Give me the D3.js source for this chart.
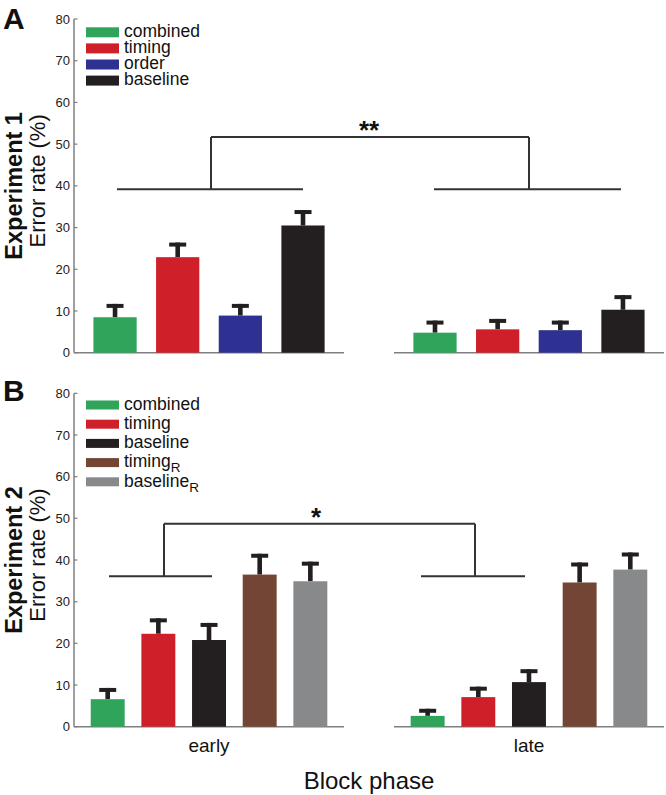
<!DOCTYPE html>
<html>
<head>
<meta charset="utf-8">
<script src="https://cdn.jsdelivr.net/npm/d3@7"></script>
<style>
  html, body { margin: 0; padding: 0; background: #fff; }
  svg { display: block; font-family: "Liberation Sans", Arial, Helvetica, sans-serif; }
</style>
</head>
<body>
<svg id="chart" width="666" height="795"></svg>
<script>
// ---------- data ----------
const groups = ["early", "late"];
const yTicks = [0, 10, 20, 30, 40, 50, 60, 70, 80];

// Experiment 1
const seriesA = ["combined", "timing", "order", "baseline"];
const colorsA = ["#2fa45a", "#cf2029", "#2e3191", "#231f20"];
const meanA_early = [8.5, 22.9, 8.9, 30.5];
const errA_early  = [3.2, 3.5, 2.8, 3.7];
const meanA_late  = [4.8, 5.6, 5.4, 10.3];
const errA_late   = [2.9, 2.5, 2.3, 3.5];

// Experiment 2
const seriesB = ["combined", "timing", "baseline", "timingR", "baselineR"];
const labelsB = [["combined", ""], ["timing", ""], ["baseline", ""], ["timing", "R"], ["baseline", "R"]];
const colorsB = ["#2fa45a", "#cf2029", "#231f20", "#734534", "#88898b"];
const meanB_early = [6.6, 22.3, 20.8, 36.5, 34.9];
const errB_early  = [2.7, 3.7, 4.1, 5.0, 4.7];
const meanB_late  = [2.6, 7.1, 10.7, 34.6, 37.7];
const errB_late   = [1.7, 2.5, 3.1, 4.8, 4.1];

// ---------- drawing ----------
const svg = d3.select("#chart");
const axisColor = "#7f7f7f";
const ink = "#231f20";

const x0 = d3.scaleBand().domain(groups).range([74, 664]).paddingInner(0.156);

function panel(cfg) {
  const g = svg.append("g");
  const y = d3.scaleLinear().domain([0, 80]).range([cfg.y0, cfg.y80]);
  const x1 = d3.scaleBand().domain(cfg.series).range([0, x0.bandwidth()]).padding(cfg.pad);

  // y axis line
  g.append("line").attr("x1", 74).attr("x2", 74).attr("y1", y(0)).attr("y2", y(80))
    .attr("stroke", axisColor).attr("stroke-width", 1.5);
  // ticks (inward) and labels
  g.selectAll(".tk").data(yTicks).join("line")
    .attr("x1", 74).attr("x2", 77.5).attr("y1", d => y(d)).attr("y2", d => y(d))
    .attr("stroke", axisColor).attr("stroke-width", 1.2);
  g.selectAll(".tl").data(yTicks).join("text")
    .attr("x", 70).attr("y", d => y(d) + 4.6)
    .attr("text-anchor", "end").attr("font-size", 13).attr("fill", "#222")
    .text(d => d);

  // x axis segments per group
  groups.forEach(gr => {
    g.append("line").attr("x1", x0(gr)).attr("x2", x0(gr) + x0.bandwidth())
      .attr("y1", y(0)).attr("y2", y(0))
      .attr("stroke", axisColor).attr("stroke-width", 1.5);
  });

  // bars and error bars
  groups.forEach((gr, gi) => {
    const means = cfg.means[gi], errs = cfg.errs[gi];
    const data = cfg.series.map((s, i) => ({ s, m: means[i], e: errs[i], c: cfg.colors[i] }));
    const gg = g.append("g");
    const bw = x1.bandwidth();
    gg.selectAll(".stem").data(data).join("rect")
      .attr("x", d => x0(gr) + x1(d.s) + bw / 2 - 2.3)
      .attr("width", 4.6)
      .attr("y", d => y(d.m + d.e))
      .attr("height", d => y(d.m) - y(d.m + d.e))
      .attr("fill", ink);
    gg.selectAll(".cap").data(data).join("rect")
      .attr("x", d => x0(gr) + x1(d.s) + bw / 2 - 8.5)
      .attr("width", 17)
      .attr("y", d => y(d.m + d.e))
      .attr("height", 4)
      .attr("fill", ink);
    gg.selectAll(".bar").data(data).join("rect")
      .attr("x", d => x0(gr) + x1(d.s))
      .attr("width", bw)
      .attr("y", d => y(d.m))
      .attr("height", d => y(0) - y(d.m))
      .attr("fill", d => d.c);
  });

  // significance bracket
  const b = cfg.bracket;
  const bg = g.append("g").attr("stroke", "#333").attr("stroke-width", 2).attr("fill", "none");
  b.cx.forEach((cx, i) => {
    bg.append("line").attr("x1", cx - b.halfL[i]).attr("x2", cx + b.halfR[i])
      .attr("y1", y(b.low)).attr("y2", y(b.low));
    bg.append("line").attr("x1", cx).attr("x2", cx).attr("y1", y(b.low)).attr("y2", y(b.top));
  });
  bg.append("line").attr("x1", b.cx[0]).attr("x2", b.cx[1]).attr("y1", y(b.top)).attr("y2", y(b.top));
  g.append("text").attr("x", (b.cx[0] + b.cx[1]) / 2 + b.starDx).attr("y", y(b.top) + 2)
    .attr("text-anchor", "middle").attr("font-size", 26).attr("font-weight", "bold")
    .attr("fill", "#111").text(b.stars);

  // legend
  const lg = g.append("g");
  cfg.legend.forEach((lab, i) => {
    const cy = cfg.legY + i * cfg.legStep;
    lg.append("rect").attr("x", 86).attr("y", cy - cfg.swH / 2).attr("width", 33).attr("height", cfg.swH)
      .attr("fill", cfg.colors[i]);
    const t = lg.append("text").attr("x", 124).attr("y", cy + 4.8).attr("font-size", 17.5).attr("fill", "#111");
    t.append("tspan").text(lab[0]);
    if (lab[1]) t.append("tspan").attr("font-size", 13.5).attr("dy", 5).text(lab[1]);
  });

  // titles
  const mid = (y(0) + y(80)) / 2;
  g.append("text").attr("transform", `translate(45,${mid - 5}) rotate(-90)`)
    .attr("text-anchor", "middle").attr("font-size", 22).attr("fill", "#111").text("Error rate (%)");
  g.append("text").attr("transform", `translate(22,${mid}) rotate(-90)`)
    .attr("text-anchor", "middle").attr("font-size", 23.5).attr("font-weight", "bold").attr("fill", "#111")
    .text(cfg.exp);
  g.append("text").attr("x", 3).attr("y", cfg.letterY).attr("font-size", 30).attr("font-weight", "bold")
    .attr("fill", "#111").text(cfg.letter);
  return { y, x1 };
}

const gc = gr => x0(gr) + x0.bandwidth() / 2;

panel({
  series: seriesA, colors: colorsA, pad: 0.31,
  means: [meanA_early, meanA_late], errs: [errA_early, errA_late],
  y0: 352.7, y80: 19,
  bracket: { cx: [gc("early") + 2, gc("late")], halfL: [94, 95], halfR: [92, 92], low: 39.2, top: 51.7, stars: "**", starDx: -1 },
  legend: seriesA.map(s => [s, ""]), legY: 32.3, legStep: 16.1, swH: 10,
  exp: "Experiment 1", letter: "A", letterY: 29
});

panel({
  series: seriesB, colors: colorsB, pad: 0.33,
  means: [meanB_early, meanB_late], errs: [errB_early, errB_late],
  y0: 726.7, y80: 393.3,
  bracket: { cx: [164, 475], halfL: [55, 54], halfR: [48, 50], low: 36.1, top: 48.7, stars: "*", starDx: -3.5 },
  legend: labelsB, legY: 405, legStep: 19.2, swH: 9,
  exp: "Experiment 2", letter: "B", letterY: 401
});

// x category labels and axis title
svg.selectAll(".grp").data(groups).join("text")
  .attr("x", d => gc(d)).attr("y", 752)
  .attr("text-anchor", "middle").attr("font-size", 19).attr("fill", "#111")
  .text(d => d);
svg.append("text").attr("x", 369).attr("y", 789).attr("text-anchor", "middle")
  .attr("font-size", 24).attr("fill", "#111").text("Block phase");
</script>
</body>
</html>
